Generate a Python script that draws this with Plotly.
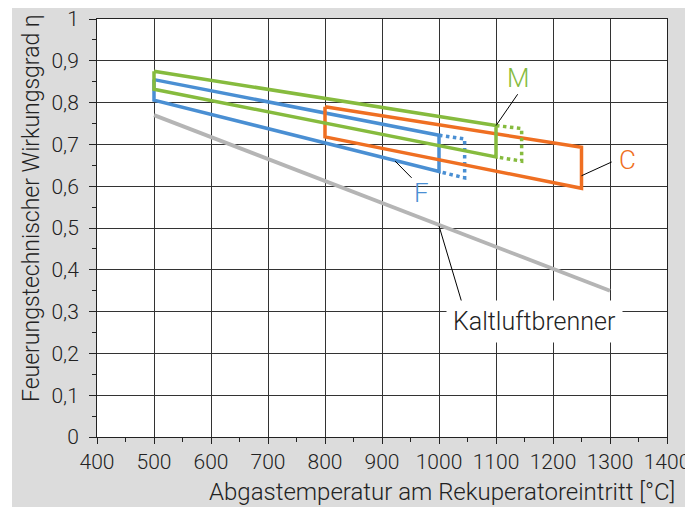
import plotly.graph_objects as go

# temperatures [°C] and efficiencies
kalt_x = [500, 1300]
kalt_y = [0.77, 0.35]

f_x = [500, 1000, 1000, 500, 500]
f_y = [0.855, 0.722, 0.635, 0.806, 0.855]
f_ext_x = [1000, 1045, 1045, 1000]
f_ext_y = [0.722, 0.713, 0.62, 0.635]

c_x = [800, 1250, 1250, 800, 800]
c_y = [0.79, 0.693, 0.595, 0.718, 0.79]

m_x = [500, 1100, 1100, 500, 500]
m_y = [0.875, 0.745, 0.67, 0.832, 0.875]
m_ext_x = [1100, 1145, 1145, 1100]
m_ext_y = [0.745, 0.738, 0.66, 0.67]

x_ticks = [400, 500, 600, 700, 800, 900, 1000, 1100, 1200, 1300, 1400]
x_labels = [str(v) for v in x_ticks]
y_ticks = [0, 0.1, 0.2, 0.3, 0.4, 0.5, 0.6, 0.7, 0.8, 0.9, 1]
y_labels = ["0", "0,1", "0,2", "0,3", "0,4", "0,5", "0,6", "0,7", "0,8", "0,9", "1"]

BLUE = "#4a8fd3"
ORANGE = "#ef6f22"
GREEN = "#86bb3e"
GRAY = "#b5b5b5"
TXT = "#222"
FONT = "Roboto"

fig = go.Figure()
fig.add_trace(go.Scatter(x=kalt_x, y=kalt_y, mode="lines", line=dict(color=GRAY, width=3.8)))
fig.add_trace(go.Scatter(x=f_x, y=f_y, mode="lines", line=dict(color=BLUE, width=3.5)))
fig.add_trace(go.Scatter(x=f_ext_x, y=f_ext_y, mode="lines", line=dict(color=BLUE, width=3.5, dash="dot")))
fig.add_trace(go.Scatter(x=c_x, y=c_y, mode="lines", line=dict(color=ORANGE, width=3.5)))
fig.add_trace(go.Scatter(x=m_x, y=m_y, mode="lines", line=dict(color=GREEN, width=3.5)))
fig.add_trace(go.Scatter(x=m_ext_x, y=m_ext_y, mode="lines", line=dict(color=GREEN, width=3.5, dash="dot")))

# leader lines for the labels
leaders = [
    ([1138, 1100], [0.82, 0.745]),
    ([1303, 1250], [0.658, 0.625]),
    ([952, 923], [0.62, 0.66]),
    ([1042, 1000], [0.313, 0.505]),
]
for lx, ly in leaders:
    fig.add_shape(type="line", x0=lx[0], x1=lx[1], y0=ly[0], y1=ly[1],
                  line=dict(color="black", width=1))

label_kw = dict(showarrow=False, xanchor="center", yanchor="middle")
fig.add_annotation(x=1139, y=0.859, text="M", **label_kw,
                   font=dict(family=FONT, size=26, color=GREEN, weight=300))
fig.add_annotation(x=1331, y=0.663, text="C", **label_kw,
                   font=dict(family=FONT, size=26, color=ORANGE, weight=300))
fig.add_annotation(x=969, y=0.584, text="F", **label_kw,
                   font=dict(family=FONT, size=26, color=BLUE, weight=300))
fig.add_annotation(x=1168, y=0.276, text="Kaltluftbrenner", **label_kw,
                   bgcolor="white", borderpad=6,
                   font=dict(family=FONT, size=25, color=TXT, weight=300))

# axis titles placed like the original (not centred on the plot)
fig.add_annotation(xref="paper", yref="paper", x=(442 - 97) / 570, y=-(492 - 437) / 418,
                   text="Abgastemperatur am Rekuperatoreintritt [°C]", **label_kw,
                   font=dict(family=FONT, size=24, color=TXT, weight=300))
fig.add_annotation(xref="paper", yref="paper", x=-(97 - 31) / 570, y=(437 - 208) / 418,
                   text="Feuerungstechnischer Wirkungsgrad η", textangle=-90, **label_kw,
                   font=dict(family=FONT, size=23, color=TXT, weight=300))

# thin white strip at the left of the grey frame (page margin adds the rest)
fig.add_shape(type="rect", xref="paper", yref="paper", x0=-89 / 570, x1=-(89 - 4) / 570,
              y0=-0.3, y1=1.2, fillcolor="white", line_width=0, layer="below")

axis_common = dict(showline=True, linecolor=TXT, linewidth=1, mirror=True,
                   showgrid=True, gridcolor="#333", gridwidth=1, zeroline=False,
                   ticks="outside", tickcolor=TXT, tickwidth=1, automargin=False,
                   ticklabeloverflow="allow",
                   tickfont=dict(family=FONT, size=21, color=TXT, weight=300))

fig.update_xaxes(range=[400, 1400], tickvals=x_ticks, ticktext=x_labels, ticklen=6,
                 minor=dict(ticks="outside", ticklen=4, dtick=50, tickcolor=TXT, showgrid=False),
                 **axis_common)
fig.update_yaxes(range=[0, 1], tickvals=y_ticks, ticktext=y_labels, ticklen=7,
                 ticklabelstandoff=6,
                 minor=dict(ticks="outside", ticklen=4, dtick=0.05, tickcolor=TXT, showgrid=False),
                 **axis_common)

# the page adds an 8 px margin, so the figure is 8 px smaller each way
fig.update_layout(
    width=685, height=499,
    margin=dict(l=89, r=26, t=11, b=70),
    paper_bgcolor="#dcdcdc",
    plot_bgcolor="white",
    showlegend=False,
)

fig.write_html("out.html")
